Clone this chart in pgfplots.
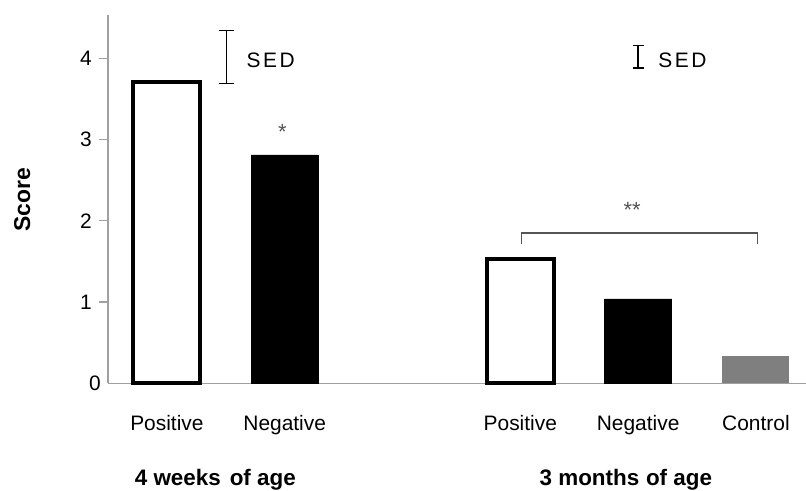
\documentclass[border=0pt]{standalone}
\usepackage{fontspec}
\setmainfont{Liberation Sans}
\usepackage{pgfplots}
\pgfplotsset{compat=1.18}
\definecolor{axisgray}{RGB}{160,160,160}
\definecolor{ctrlgray}{RGB}{127,127,127}
\definecolor{stargray}{RGB}{85,85,85}

\begin{document}
\fontsize{21}{25}\selectfont
\begin{tikzpicture}
\begin{axis}[
  scale only axis, width=698bp, height=368.3bp,
  xmin=-0.5, xmax=5.425, ymin=0, ymax=4.533,
  axis lines*=left,
  axis line style={axisgray, line width=1.2bp},
  xtick={0,1,3,4,5},
  xticklabels={Positive,Negative,Positive,Negative,Control},
  x tick style={draw=none},
  ytick={1,2,3,4},
  extra y ticks={0}, extra y tick style={major tick length=0pt},
  y tick style={axisgray, line width=1.2bp},
  tick align=outside, major tick length=9bp,
  xticklabel style={yshift=-16bp},
  /pgf/number format/assume math mode=true,
  unbounded coords=jump,
  clip=false,
]
% bars
\addplot[ybar, bar width=67bp, bar shift=0pt, fill=white, draw=black, line width=4bp]
  coordinates {(0,3.71) (3,1.53)};
\addplot[ybar, bar width=67bp, bar shift=0pt, fill=black, draw=black]
  coordinates {(1,2.81) (4,1.04)};
\addplot[ybar, bar width=67bp, bar shift=0pt, fill=ctrlgray, draw=none]
  coordinates {(5,0.33)};

% SED bars (I-shapes)
\addplot[black, line width=1.6bp, mark=none]
  coordinates {(0.441,4.34) (0.569,4.34) (nan,nan)
               (0.505,4.34) (0.505,3.69) (nan,nan)
               (0.441,3.69) (0.569,3.69)};
\addplot[black, line width=1.6bp, mark=none]
  coordinates {(3.953,4.16) (4.047,4.16) (nan,nan)
               (4.0,4.16) (4.0,3.88) (nan,nan)
               (3.953,3.88) (4.047,3.88)};
\node[anchor=west, inner sep=0pt] at (axis cs:0.675,3.98) {\addfontfeature{LetterSpace=12}SED};
\node[anchor=west, inner sep=0pt] at (axis cs:4.17,3.98) {\addfontfeature{LetterSpace=12}SED};

% significance
\addplot[stargray, line width=1.2bp]
  coordinates {(3.01,1.72) (3.01,1.85) (5.01,1.85) (5.01,1.72)};
\node[anchor=north, inner sep=0pt, text=stargray, font=\fontsize{22}{24}\selectfont]
  at (axis cs:0.98,3.19) {*};
\node[anchor=north, inner sep=0pt, text=stargray, font=\fontsize{22}{24}\selectfont]
  at (axis cs:3.95,2.23) {**};

% labels
\node[rotate=90, font=\bfseries\fontsize{23}{28}\selectfont] at (axis cs:-1.227,2.26) {Score};
\node[anchor=base, font=\bfseries\fontsize{22.5}{27}\selectfont]
  at (axis cs:0.411,-1.255) {4 weeks\hspace{0.4em}of age};
\node[anchor=base, font=\bfseries\fontsize{22.5}{27}\selectfont]
  at (axis cs:3.896,-1.255) {3 months\hspace{0.3em}of age};
\end{axis}
\pgfresetboundingbox
\useasboundingbox (-108bp,-107.7bp) rectangle (698bp,383.3bp);
\end{tikzpicture}
\end{document}
